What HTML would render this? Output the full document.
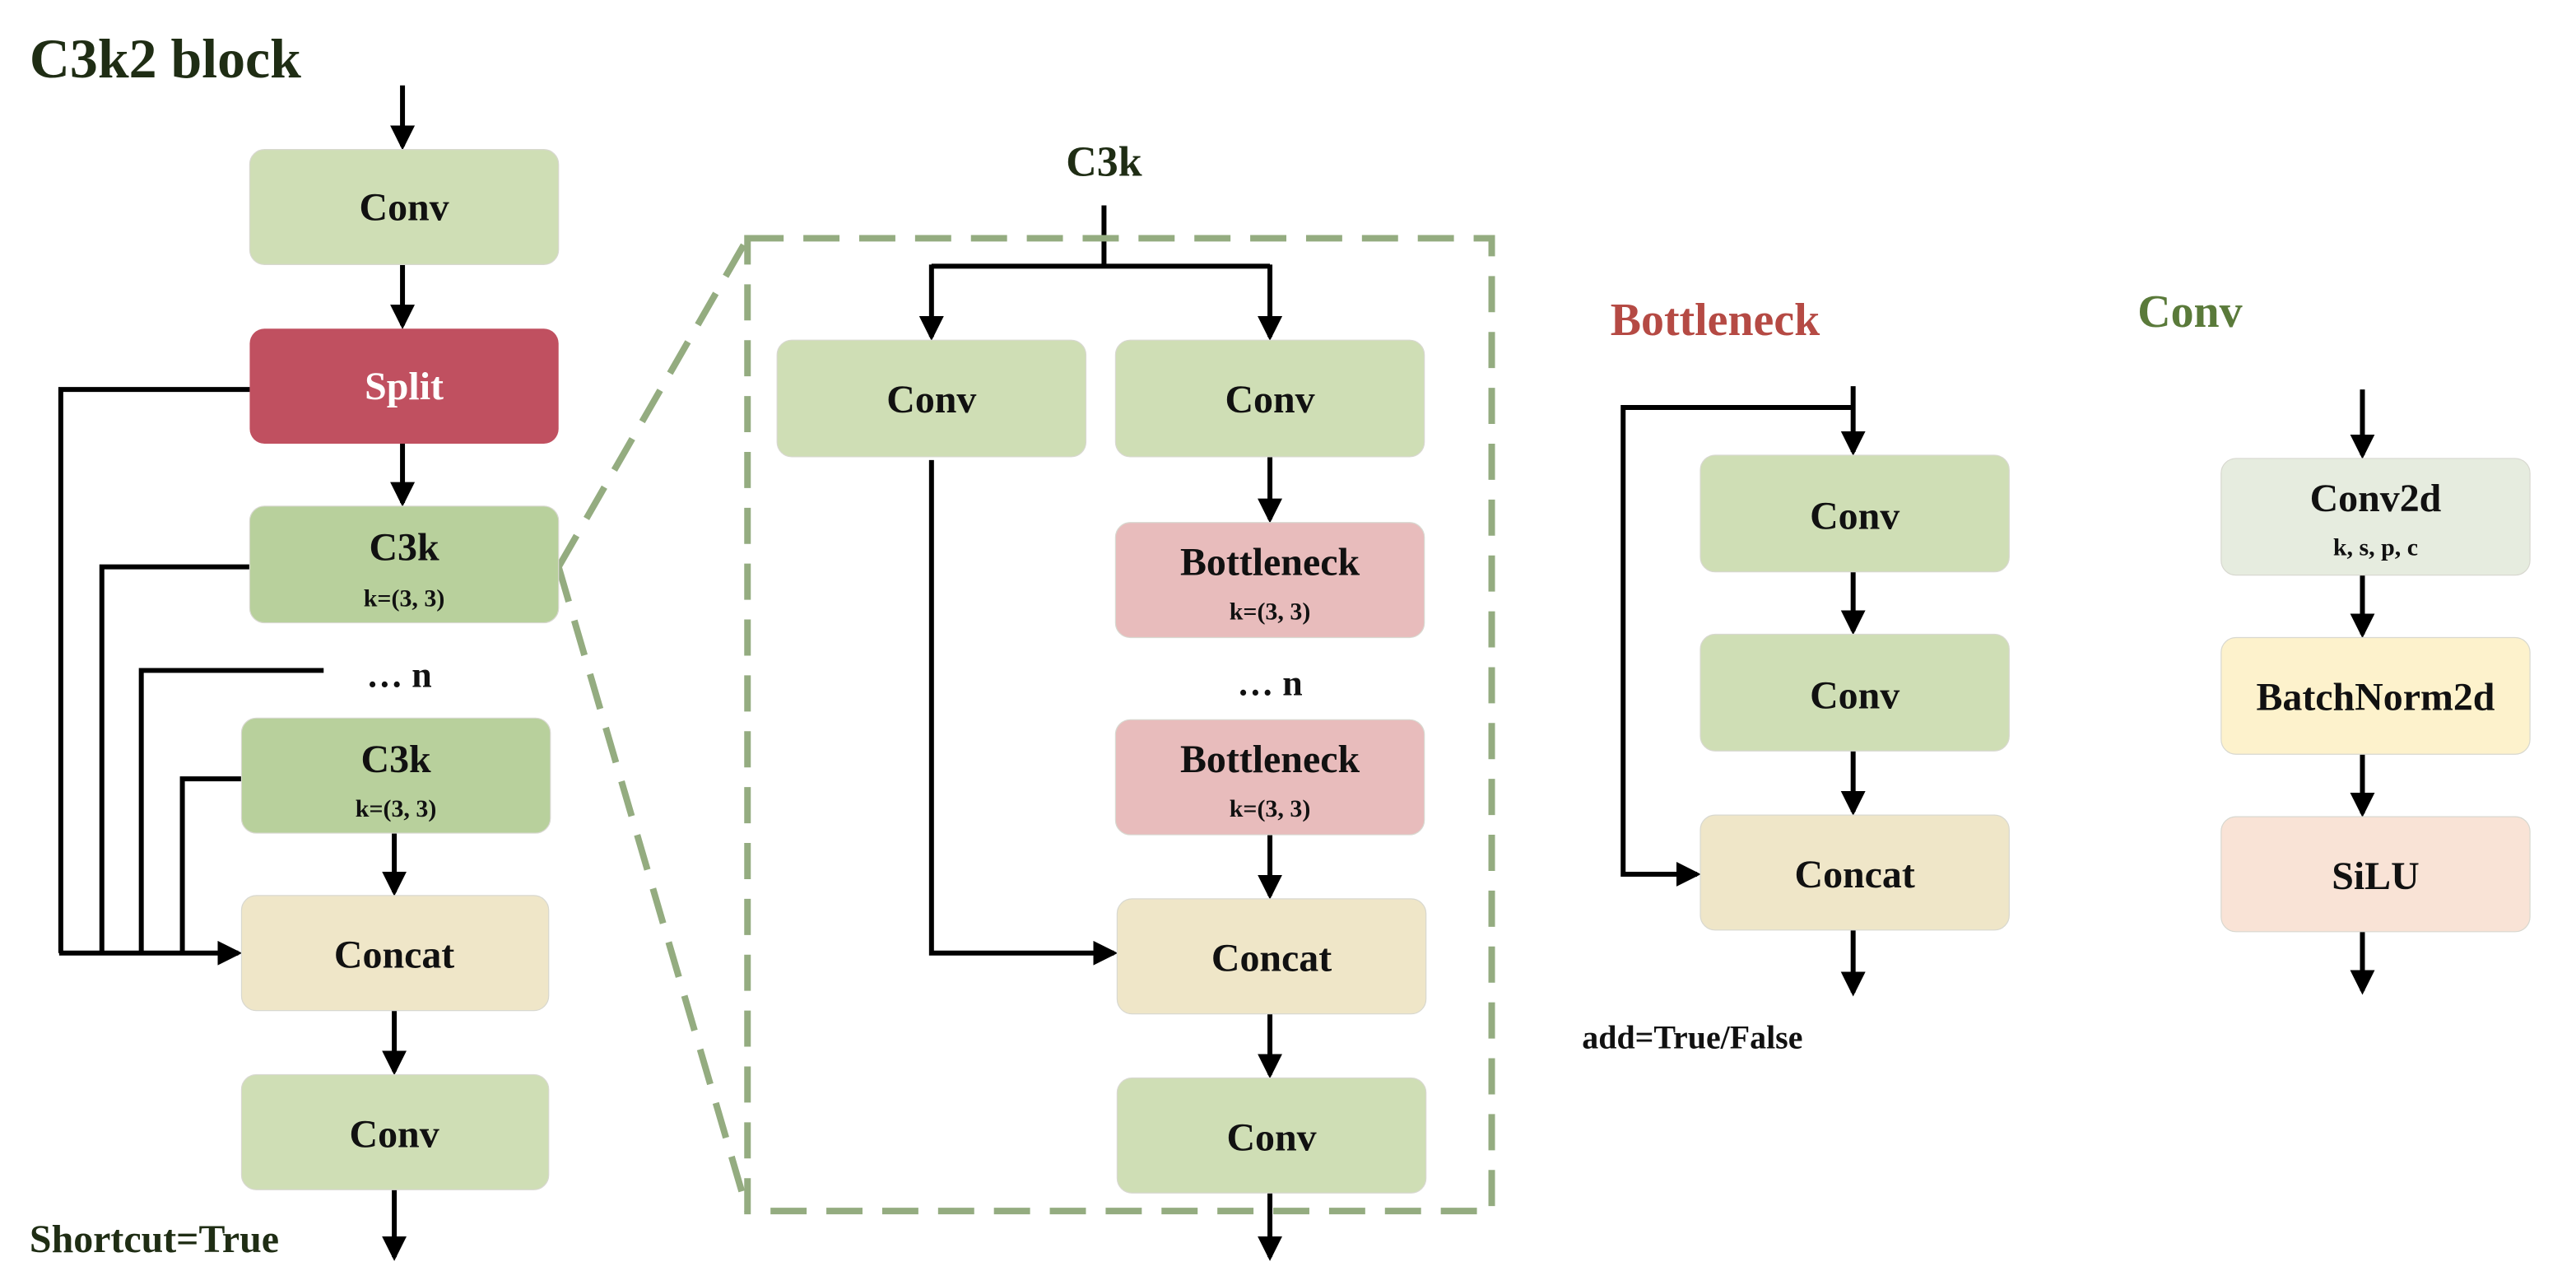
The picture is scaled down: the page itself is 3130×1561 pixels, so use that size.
<!DOCTYPE html>
<html><head><meta charset="utf-8"><style>
html,body{margin:0;padding:0;background:#fff;width:3130px;height:1561px;overflow:hidden}
svg{display:block}
text{font-family:"Liberation Serif",serif;font-weight:bold;text-anchor:middle;fill:#111}
</style></head><body>
<svg width="3130" height="1561" viewBox="0 0 1568 782" xmlns="http://www.w3.org/2000/svg">
<defs>
<marker id="a" markerWidth="5" markerHeight="5" refX="4.2" refY="2.5" orient="auto" markerUnits="strokeWidth">
<path d="M0,0 L5,2.5 L0,5 Z" fill="#000"/></marker>
</defs>
<g stroke="#000" stroke-width="3" fill="none">
<!-- left column -->
<line x1="245" y1="52" x2="245" y2="89" marker-end="url(#a)"/>
<line x1="245" y1="161" x2="245" y2="198" marker-end="url(#a)"/>
<line x1="245" y1="270" x2="245" y2="306" marker-end="url(#a)"/>
<line x1="240" y1="507" x2="240" y2="543" marker-end="url(#a)"/>
<line x1="240" y1="615" x2="240" y2="652" marker-end="url(#a)"/>
<line x1="240" y1="724" x2="240" y2="765" marker-end="url(#a)"/>
<polyline points="152,237 37,237 37,580"/>
<polyline points="152,345 62,345 62,580"/>
<polyline points="197,408 86,408 86,580"/>
<polyline points="147,474 111,474 111,580"/>
<line x1="36" y1="580" x2="145" y2="580" marker-end="url(#a)"/>
<!-- C3k inner -->
<line x1="672" y1="125" x2="672" y2="162"/>
<line x1="567" y1="162" x2="773" y2="162"/>
<line x1="567" y1="161" x2="567" y2="205" marker-end="url(#a)"/>
<line x1="773" y1="161" x2="773" y2="205" marker-end="url(#a)"/>
<line x1="773" y1="278" x2="773" y2="316" marker-end="url(#a)"/>
<line x1="773" y1="508" x2="773" y2="545" marker-end="url(#a)"/>
<line x1="773" y1="617" x2="773" y2="654" marker-end="url(#a)"/>
<line x1="773" y1="726" x2="773" y2="765" marker-end="url(#a)"/>
<polyline points="567,280 567,580 678,580" marker-end="url(#a)"/>
<!-- bottleneck -->
<line x1="1128" y1="235" x2="1128" y2="275" marker-end="url(#a)"/>
<polyline points="1128,248 988,248 988,532 1033,532" marker-end="url(#a)"/>
<line x1="1128" y1="348" x2="1128" y2="384" marker-end="url(#a)"/>
<line x1="1128" y1="457" x2="1128" y2="494" marker-end="url(#a)"/>
<line x1="1128" y1="566" x2="1128" y2="604" marker-end="url(#a)"/>
<!-- conv detail -->
<line x1="1438" y1="237" x2="1438" y2="277" marker-end="url(#a)"/>
<line x1="1438" y1="350" x2="1438" y2="386" marker-end="url(#a)"/>
<line x1="1438" y1="459" x2="1438" y2="495" marker-end="url(#a)"/>
<line x1="1438" y1="567" x2="1438" y2="603" marker-end="url(#a)"/>
</g>
<!-- dashed zoom -->
<g stroke="#94ac80" stroke-width="4" fill="none" stroke-dasharray="22,12">
<rect x="455" y="145" width="453" height="592"/>
<line x1="340" y1="345" x2="455" y2="145"/>
<line x1="340" y1="345" x2="455" y2="737"/>
</g>
<!-- boxes -->
<g stroke="#d8d8d0" stroke-width="0.6">
<rect x="152" y="91" width="188" height="70" rx="9" fill="#cfdeb5"/>
<rect x="152" y="200" width="188" height="70" rx="9" fill="#c05060" stroke="none"/>
<rect x="152" y="308" width="188" height="71" rx="9" fill="#b8d09c"/>
<rect x="147" y="437" width="188" height="70" rx="9" fill="#b8d09c"/>
<rect x="147" y="545" width="187" height="70" rx="9" fill="#efe6c8"/>
<rect x="147" y="654" width="187" height="70" rx="9" fill="#cfdeb5"/>
<rect x="473" y="207" width="188" height="71" rx="9" fill="#cfdeb5"/>
<rect x="679" y="207" width="188" height="71" rx="9" fill="#cfdeb5"/>
<rect x="679" y="318" width="188" height="70" rx="9" fill="#e8bcbc"/>
<rect x="679" y="438" width="188" height="70" rx="9" fill="#e8bcbc"/>
<rect x="680" y="547" width="188" height="70" rx="9" fill="#efe6c8"/>
<rect x="680" y="656" width="188" height="70" rx="9" fill="#cfdeb5"/>
<rect x="1035" y="277" width="188" height="71" rx="9" fill="#cfdeb5"/>
<rect x="1035" y="386" width="188" height="71" rx="9" fill="#cfdeb5"/>
<rect x="1035" y="496" width="188" height="70" rx="9" fill="#efe6c8"/>
<rect x="1352" y="279" width="188" height="71" rx="9" fill="#e6ecdf"/>
<rect x="1352" y="388" width="188" height="71" rx="9" fill="#fdf2cc"/>
<rect x="1352" y="497" width="188" height="70" rx="9" fill="#f9e3d6"/>
</g>
<!-- text -->
<text x="18" y="47" font-size="34" fill="#1f2d14" style="text-anchor:start;fill:#1f2d14">C3k2 block</text>
<text x="246" y="134" font-size="24">Conv</text>
<text x="246" y="243" font-size="24" style="fill:#fff">Split</text>
<text x="246" y="341" font-size="24">C3k</text>
<text x="246" y="369" font-size="15">k=(3, 3)</text>
<text x="243" y="418" font-size="22">… n</text>
<text x="241" y="470" font-size="24">C3k</text>
<text x="241" y="497" font-size="15">k=(3, 3)</text>
<text x="240" y="589" font-size="24">Concat</text>
<text x="240" y="698" font-size="24">Conv</text>
<text x="18" y="762" font-size="24" style="text-anchor:start;fill:#1f2d14">Shortcut=True</text>
<text x="672" y="107" font-size="26" style="fill:#1f2d14">C3k</text>
<text x="567" y="251" font-size="24">Conv</text>
<text x="773" y="251" font-size="24">Conv</text>
<text x="773" y="350" font-size="24">Bottleneck</text>
<text x="773" y="377" font-size="15">k=(3, 3)</text>
<text x="773" y="423" font-size="22">… n</text>
<text x="773" y="470" font-size="24">Bottleneck</text>
<text x="773" y="497" font-size="15">k=(3, 3)</text>
<text x="774" y="591" font-size="24">Concat</text>
<text x="774" y="700" font-size="24">Conv</text>
<text x="1044" y="204" font-size="28" style="fill:#b54a44">Bottleneck</text>
<text x="1129" y="322" font-size="24">Conv</text>
<text x="1129" y="431" font-size="24">Conv</text>
<text x="1129" y="540" font-size="24">Concat</text>
<text x="963" y="638" font-size="20" style="text-anchor:start">add=True/False</text>
<text x="1333" y="199" font-size="28" style="fill:#5a7a3a">Conv</text>
<text x="1446" y="311" font-size="24">Conv2d</text>
<text x="1446" y="338" font-size="15">k, s, p, c</text>
<text x="1446" y="432" font-size="24">BatchNorm2d</text>
<text x="1446" y="541" font-size="24">SiLU</text>
</svg>
</body></html>
